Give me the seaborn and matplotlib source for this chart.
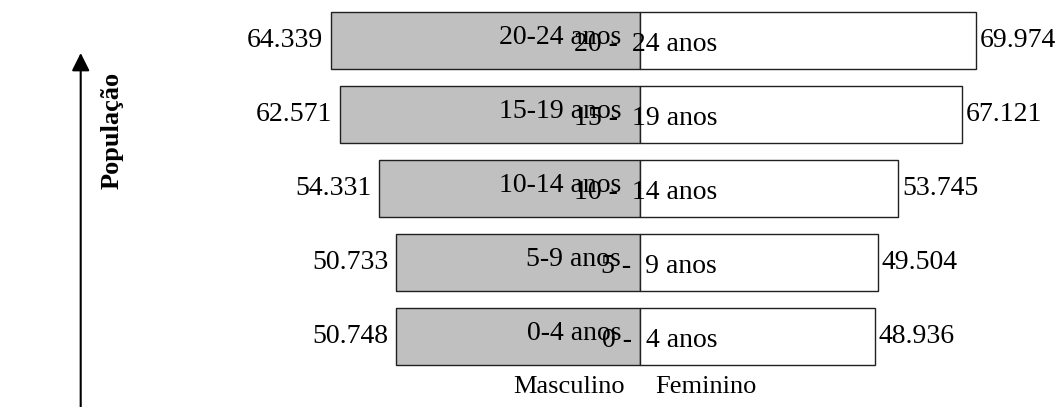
import pandas as pd
import matplotlib
matplotlib.use("Agg")
import matplotlib.pyplot as plt
import seaborn as sns

# Data (age groups listed top to bottom)
faixas = ["20-24 anos", "15-19 anos", "10-14 anos", "5-9 anos", "0-4 anos"]
faixas_fem = ["20 -  24 anos", "15 -  19 anos", "10 -  14 anos", "5 -  9 anos", "0 -  4 anos"]
masculino = [64339, 62571, 54331, 50733, 50748]
feminino = [69974, 67121, 53745, 49504, 48936]

df = pd.DataFrame({
    "idade": faixas * 2,
    "sexo": ["Masculino"] * len(faixas) + ["Feminino"] * len(faixas),
    "valor": [-v for v in masculino] + feminino,
})

sns.set_style("white")
plt.rcParams["font.family"] = ["Liberation Serif", "DejaVu Serif"]
plt.rcParams["text.color"] = "black"

fig = plt.figure(figsize=(10.61, 4.07), dpi=100)
ax = fig.add_axes([0, 0, 1, 1])

sns.barplot(data=df, x="valor", y="idade", hue="sexo", order=faixas,
            hue_order=["Masculino", "Feminino"], dodge=False, orient="h",
            palette={"Masculino": "#c0c0c0", "Feminino": "white"},
            edgecolor="#202020", linewidth=1.0, width=0.765, legend=False, ax=ax)

ax.set_xlim(-133333, 87708)
ax.set_ylim(4.953, -0.547)
ax.axis("off")

fs = 20
fmt = lambda v: f"{v:,}".replace(",", ".")

for i, (m, f) in enumerate(zip(masculino, feminino)):
    ax.annotate(fmt(m), xy=(-m, i), xytext=(-8, 0), textcoords="offset pixels",
                ha="right", va="center", fontsize=fs)
    ax.annotate(fmt(f), xy=(f, i), xytext=(4, 0), textcoords="offset pixels",
                ha="left", va="center", fontsize=fs)
    ax.annotate(faixas[i], xy=(0, i), xytext=(-19, 3), textcoords="offset pixels",
                ha="right", va="center", fontsize=fs)
    ax.annotate(faixas_fem[i], xy=(0, i), xytext=(77, -4.5), textcoords="offset pixels",
                ha="right", va="center", fontsize=fs)

# category labels under the pyramid
last = len(faixas) - 1
ax.annotate("Masculino", xy=(0, last), xytext=(-71, -51), textcoords="offset pixels",
            ha="center", va="center", fontsize=19)
ax.annotate("Feminino", xy=(0, last), xytext=(66, -51), textcoords="offset pixels",
            ha="center", va="center", fontsize=19)

# vertical arrow + label
ax.annotate("", xy=(80.7, 354), xytext=(80.7, 0), xycoords="figure pixels",
            textcoords="figure pixels",
            arrowprops=dict(arrowstyle="-|>,head_length=0.4,head_width=0.2",
                            lw=1.5, color="black", mutation_scale=27,
                            shrinkA=0, shrinkB=0))
fig.text(112 / 1061, 1 - 130 / 407, "População", rotation=90, ha="center",
         va="center", fontsize=19, fontweight="bold")

fig.savefig("out.png", dpi=100)
